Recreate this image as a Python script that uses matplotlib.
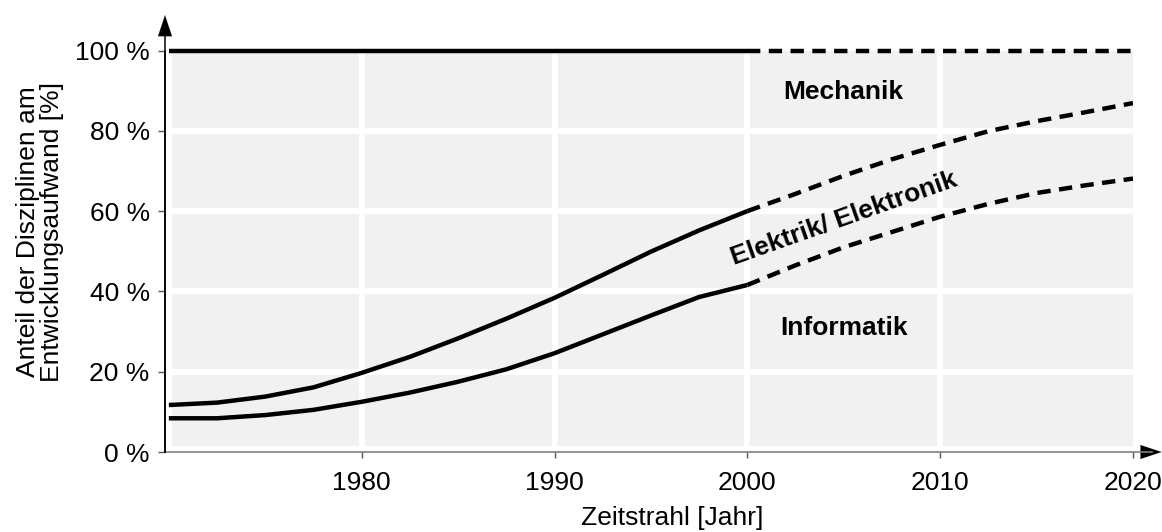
import matplotlib
matplotlib.use("Agg")
import matplotlib.pyplot as plt
from matplotlib.lines import Line2D

plt.rcParams['font.family'] = ['Liberation Sans', 'DejaVu Sans']

# ---- data (percent of development effort) ----
years_hist = [1970, 1972.5, 1975, 1977.5, 1980, 1982.5, 1985, 1987.5, 1990, 1992.5, 1995, 1997.5, 2000]
elektrik_top_hist = [11.7, 12.3, 13.8, 16.1, 19.7, 23.7, 28.3, 33.2, 38.4, 44.1, 49.9, 55.2, 60.0]
informatik_top_hist = [8.4, 8.4, 9.2, 10.5, 12.5, 14.8, 17.5, 20.6, 24.6, 29.3, 34.0, 38.6, 41.6]

years_fc = [2000, 2002.5, 2005, 2007.5, 2010, 2012.5, 2015, 2017.5, 2020]
elektrik_top_fc = [60.0, 64.3, 68.8, 72.9, 76.5, 79.9, 82.4, 84.6, 86.9]
informatik_top_fc = [41.6, 46.5, 51.0, 54.8, 58.6, 61.8, 64.5, 66.4, 68.1]

mechanik_top = 100
x_ticks = [1980, 1990, 2000, 2010, 2020]
y_ticks = [0, 20, 40, 60, 80, 100]
y_ticklabels = ['0 %', '20 %', '40 %', '60 %', '80 %', '100 %']

region_labels = ['Mechanik', 'Elektrik/ Elektronik', 'Informatik']

# ---- figure ----
W, H = 1162, 532
fig = plt.figure(figsize=(W / 100, H / 100), dpi=100)
left, right, bottom, top = 165, 1133, 452, 50.5
ax = fig.add_axes([left / W, 1 - bottom / H, (right - left) / W, (bottom - top) / H])
ax.set_xlim(1969.8, 2020)
ax.set_ylim(0, 100)

ax.set_facecolor('#f1f1f1')
grid_lw = 4.3
for xv in x_ticks[:-1]:
    ax.axvline(xv, color='white', lw=grid_lw, zorder=1)
for yv in y_ticks[1:-1]:
    ax.axhline(yv, color='white', lw=grid_lw, zorder=1)
ax.axvline(1969.8, color='white', lw=10, zorder=1)
ax.axhline(0, color='white', lw=8.6, zorder=1)

lw = 3.2
dash = (3.0, 1.9)
ax.plot(years_hist, elektrik_top_hist, color='black', lw=lw, zorder=3, solid_capstyle='butt')
ax.plot(years_hist, informatik_top_hist, color='black', lw=lw, zorder=3, solid_capstyle='butt')
ax.plot(years_fc, elektrik_top_fc, color='black', lw=lw, zorder=3, dashes=dash)
ax.plot(years_fc, informatik_top_fc, color='black', lw=lw, zorder=3, dashes=dash)
ax.plot([years_hist[0], years_hist[-1]], [mechanik_top, mechanik_top], color='black', lw=lw,
        zorder=4, clip_on=False, solid_capstyle='butt')
ax.plot([years_fc[0], years_fc[-1]], [mechanik_top, mechanik_top], color='black', lw=lw,
        zorder=4, clip_on=False, dashes=dash)

fs = 19
ax.text(2005, 89.7, region_labels[0], ha='center', va='center', fontsize=fs, fontweight='bold', zorder=5)
ax.text(2005, 58.3, region_labels[1], ha='center', va='center', fontsize=fs, fontweight='bold',
        rotation=19.5, rotation_mode='anchor', zorder=5)
ax.text(2005, 31.0, region_labels[2], ha='center', va='center', fontsize=fs, fontweight='bold', zorder=5)

# spines & ticks
for s in ['top', 'right']:
    ax.spines[s].set_visible(False)
ax.spines['bottom'].set_visible(False)
ax.spines['left'].set_color('black')
ax.spines['left'].set_linewidth(1.1)
ax.spines['left'].set_zorder(6)

ax.set_xticks(x_ticks)
ax.set_xticklabels([str(v) for v in x_ticks], fontsize=fs)
ax.set_yticks(y_ticks)
ax.set_yticklabels(y_ticklabels, fontsize=fs)
ax.tick_params(axis='x', direction='out', length=4, width=1, color='#555555', pad=10)
ax.tick_params(axis='y', direction='out', length=5, width=1, color='#555555', pad=6)

# x axis line (gray) with arrow
ax.add_line(Line2D([0, 1.02], [0, 0], transform=ax.transAxes, color='#808080', lw=1.2,
                   clip_on=False, zorder=6))
ax.annotate('', xy=(1.0295, 0), xycoords='axes fraction', xytext=(1.012, 0),
            textcoords='axes fraction',
            arrowprops=dict(arrowstyle='-|>,head_length=1.5,head_width=0.5', mutation_scale=10,
                            color='black', lw=0.1, shrinkA=0, shrinkB=0), annotation_clip=False)
# y axis arrow
ax.add_line(Line2D([0, 0], [0, 1.05], transform=ax.transAxes, color='black', lw=1.1,
                   clip_on=False, zorder=6))
ax.annotate('', xy=(0, 1.088), xycoords='axes fraction', xytext=(0, 1.03),
            textcoords='axes fraction',
            arrowprops=dict(arrowstyle='-|>,head_length=1.5,head_width=0.5', mutation_scale=10,
                            color='black', lw=0.1, shrinkA=0, shrinkB=0), annotation_clip=False)

fig.text(672 / W, 1 - 518 / H, 'Zeitstrahl [Jahr]', ha='center', va='center', fontsize=fs)
fig.text(40 / W, 1 - 232 / H, 'Anteil der Disziplinen am\nEntwicklungsaufwand [%]', ha='center',
         va='center', rotation=90, fontsize=fs, multialignment='center', linespacing=1.0)

fig.savefig('out.png', dpi=100)
